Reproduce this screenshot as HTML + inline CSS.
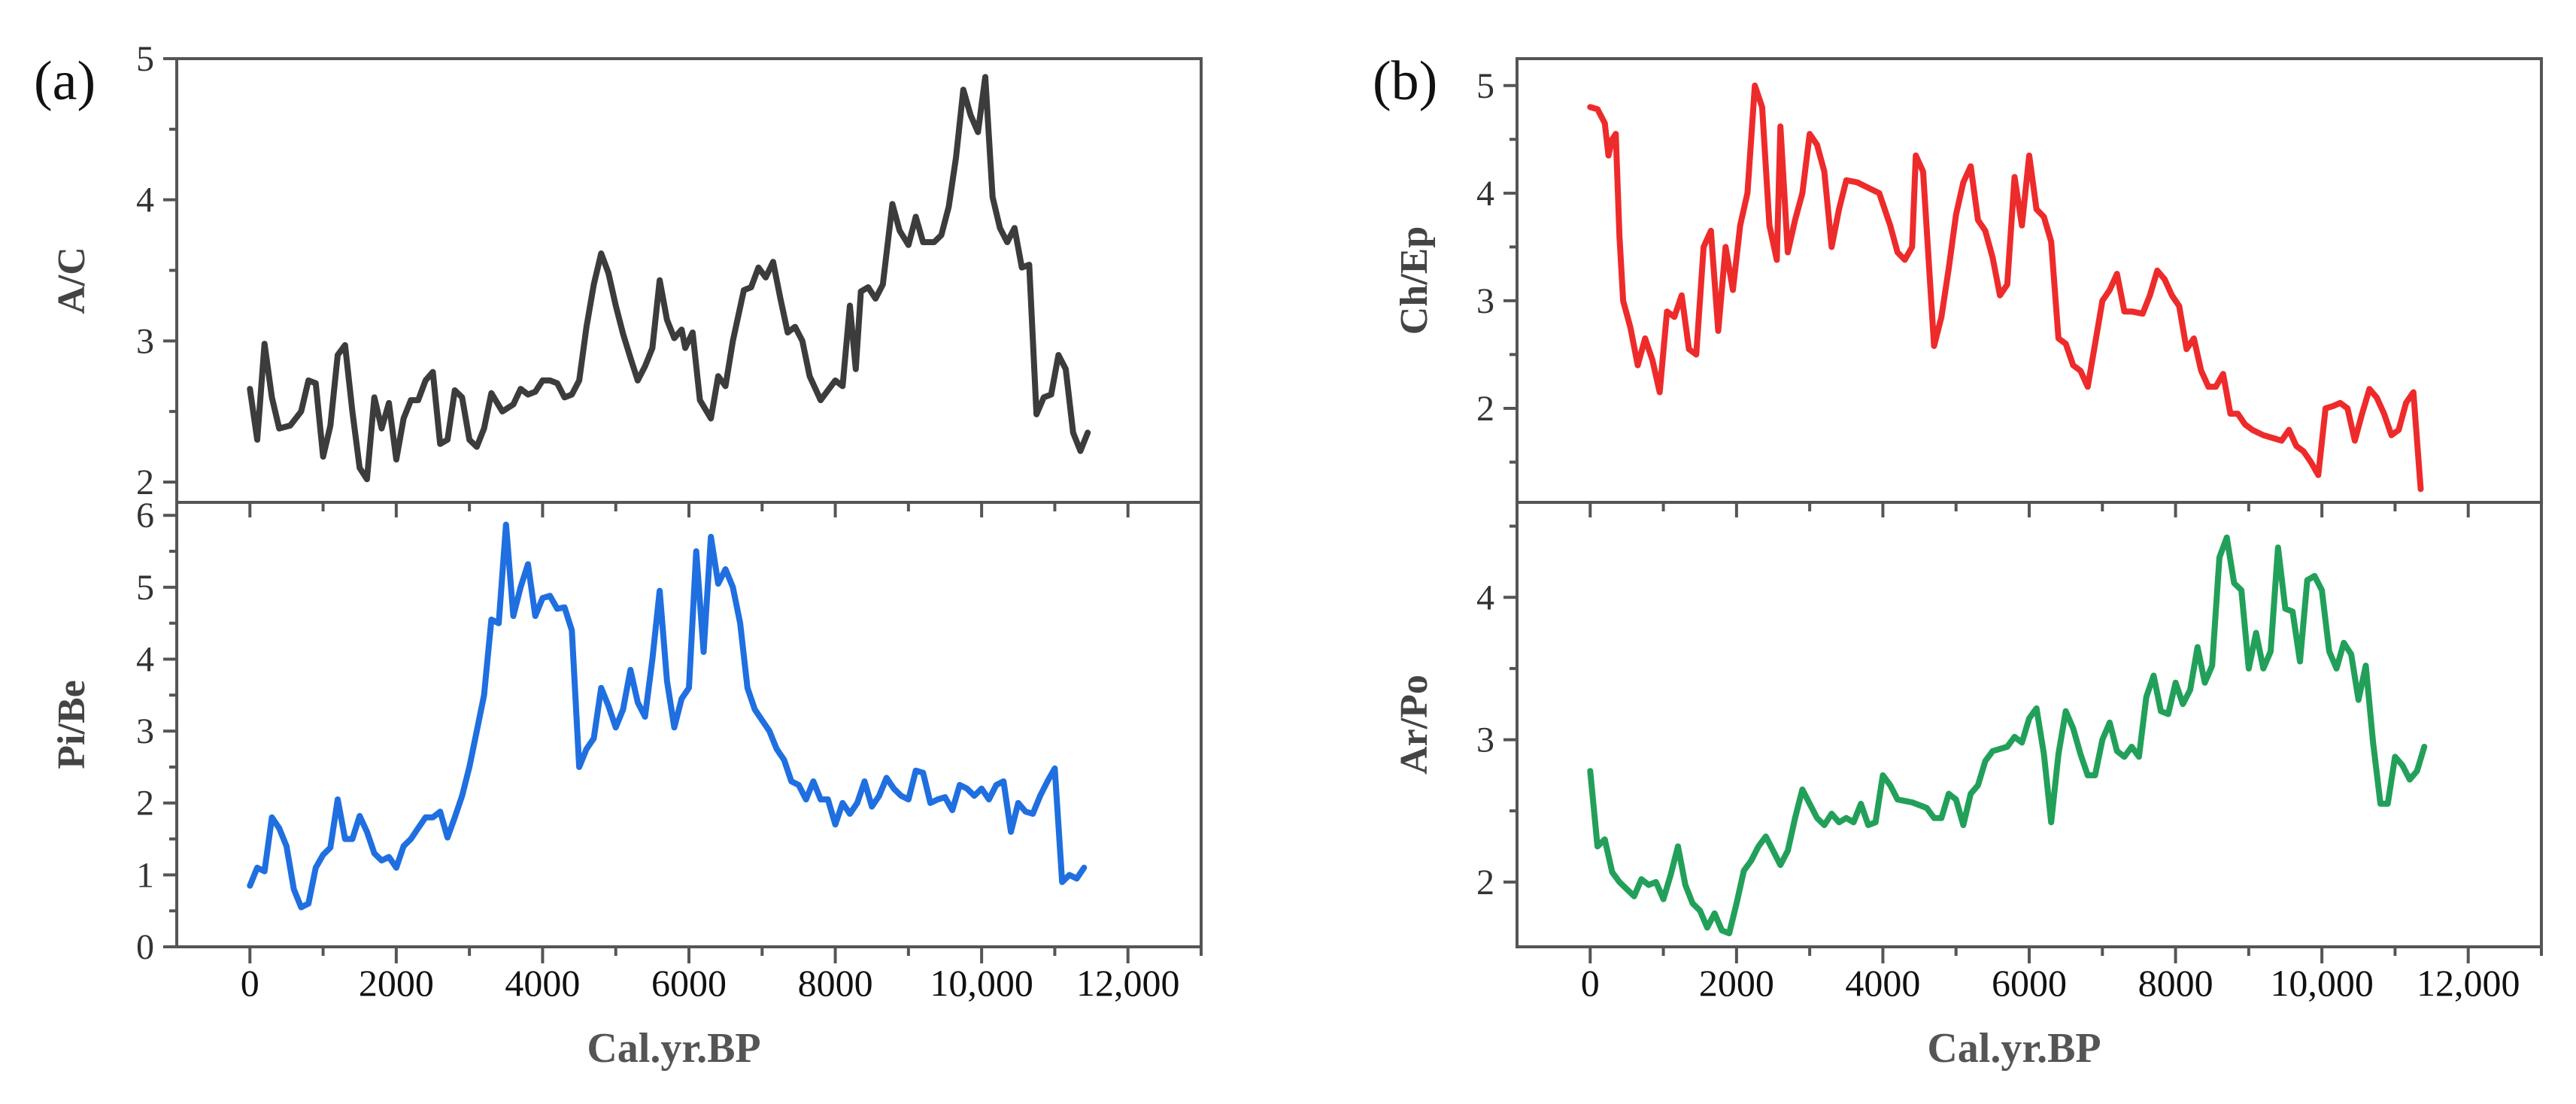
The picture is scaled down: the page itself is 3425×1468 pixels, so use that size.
<!DOCTYPE html>
<html><head><meta charset="utf-8">
<style>
html,body{margin:0;padding:0;background:#fff;}
svg{display:block;}
text{font-family:"Liberation Serif",serif;}
</style></head>
<body>
<svg id="fig" width="3425" height="1468" viewBox="0 0 3425 1468" xmlns="http://www.w3.org/2000/svg">
<rect width="3425" height="1468" fill="#fff"/>
</svg>
<script>
// ---- data arrays ----
const acYears=[0,100,200,300,400,550,700,800,900,1000,1100,1200,1300,1400,1500,1600,1700,1800,1900,2000,2100,2200,2300,2400,2500,2600,2700,2800,2900,3000,3100,3200,3300,3450,3600,3700,3800,3900,4000,4100,4200,4300,4400,4500,4600,4700,4800,4900,5000,5100,5200,5300,5400,5500,5600,5700,5800,5900,5950,6050,6150,6300,6400,6500,6600,6750,6850,6950,7050,7150,7250,7350,7450,7550,7650,7800,7900,8000,8100,8200,8280,8350,8450,8550,8650,8780,8880,9000,9100,9200,9350,9450,9550,9650,9750,9850,9950,10050,10150,10250,10350,10450,10550,10650,10750,10850,10950,11050,11150,11250,11350,11450];
const acValues=[2.66,2.3,2.98,2.6,2.38,2.4,2.5,2.72,2.7,2.18,2.4,2.9,2.97,2.5,2.1,2.02,2.6,2.38,2.56,2.16,2.45,2.58,2.58,2.72,2.78,2.27,2.3,2.65,2.6,2.3,2.25,2.38,2.63,2.5,2.55,2.66,2.62,2.64,2.72,2.72,2.7,2.6,2.62,2.72,3.1,3.4,3.62,3.48,3.25,3.05,2.88,2.72,2.82,2.95,3.43,3.15,3.02,3.08,2.95,3.06,2.58,2.45,2.75,2.68,3.0,3.36,3.38,3.52,3.45,3.56,3.3,3.06,3.1,3.0,2.75,2.58,2.65,2.72,2.68,3.25,2.8,3.35,3.38,3.3,3.4,3.97,3.78,3.68,3.88,3.7,3.7,3.75,3.95,4.3,4.78,4.6,4.48,4.87,4.02,3.8,3.7,3.8,3.52,3.54,2.48,2.6,2.62,2.9,2.8,2.35,2.22,2.35];
const pbYears=[0,100,200,300,400,500,600,700,800,900,1000,1100,1200,1300,1400,1500,1600,1700,1800,1900,2000,2100,2200,2300,2400,2500,2600,2700,2800,2900,3000,3100,3200,3300,3400,3500,3600,3700,3800,3900,4000,4100,4200,4300,4400,4500,4600,4700,4800,4900,5000,5100,5200,5300,5400,5500,5600,5700,5800,5900,6000,6100,6200,6300,6400,6500,6600,6700,6800,6900,7000,7100,7200,7300,7400,7500,7600,7700,7800,7900,8000,8100,8200,8300,8400,8500,8600,8700,8800,8900,9000,9100,9200,9300,9400,9500,9600,9700,9800,9900,10000,10100,10200,10300,10400,10500,10600,10700,10800,10900,11000,11100,11200,11300,11400];
const pbValues=[0.85,1.1,1.05,1.8,1.65,1.4,0.8,0.55,0.6,1.1,1.28,1.38,2.05,1.5,1.5,1.82,1.6,1.3,1.2,1.25,1.1,1.4,1.5,1.65,1.8,1.8,1.88,1.52,1.8,2.1,2.5,3.0,3.5,4.55,4.5,5.87,4.6,5.0,5.32,4.6,4.85,4.88,4.7,4.72,4.4,2.5,2.75,2.9,3.6,3.35,3.05,3.3,3.85,3.4,3.2,4.0,4.95,3.7,3.05,3.45,3.6,5.5,4.1,5.7,5.05,5.25,5.0,4.5,3.6,3.3,3.15,3.0,2.75,2.6,2.3,2.25,2.05,2.3,2.05,2.05,1.7,2.0,1.85,2.0,2.3,1.95,2.1,2.35,2.2,2.1,2.05,2.45,2.42,2.0,2.05,2.08,1.9,2.25,2.2,2.1,2.2,2.05,2.25,2.3,1.6,2.0,1.88,1.85,2.1,2.3,2.48,0.9,1.0,0.95,1.1];
const ceYears=[0,100,200,250,300,350,400,450,550,650,750,850,950,1050,1150,1250,1350,1450,1550,1650,1750,1850,1950,2050,2150,2250,2350,2450,2550,2600,2700,2800,2900,3000,3100,3200,3300,3400,3500,3650,3800,3950,4100,4200,4300,4400,4450,4550,4700,4800,4900,5000,5100,5200,5300,5400,5500,5600,5700,5800,5900,6000,6100,6200,6300,6400,6500,6600,6700,6800,6900,7000,7100,7200,7300,7400,7550,7650,7750,7850,7950,8050,8150,8250,8350,8450,8550,8650,8750,8850,8950,9050,9200,9350,9450,9550,9650,9750,9850,9950,10050,10150,10250,10350,10450,10550,10650,10750,10850,10950,11050,11150,11250,11350];
const ceValues=[4.8,4.78,4.65,4.35,4.5,4.55,3.6,3.0,2.75,2.4,2.65,2.45,2.15,2.9,2.85,3.05,2.55,2.5,3.5,3.65,2.72,3.5,3.1,3.7,4.0,5.0,4.8,3.7,3.38,4.62,3.45,3.75,4.0,4.55,4.45,4.2,3.5,3.85,4.12,4.1,4.05,4.0,3.7,3.45,3.38,3.5,4.35,4.2,2.58,2.85,3.3,3.8,4.1,4.25,3.75,3.65,3.4,3.05,3.15,4.15,3.7,4.35,3.85,3.78,3.55,2.65,2.6,2.4,2.35,2.2,2.6,3.0,3.1,3.25,2.9,2.9,2.88,3.05,3.28,3.2,3.05,2.95,2.55,2.65,2.35,2.2,2.2,2.32,1.95,1.95,1.85,1.8,1.75,1.72,1.7,1.8,1.65,1.6,1.5,1.38,2.0,2.02,2.05,2.0,1.7,1.95,2.18,2.1,1.95,1.75,1.8,2.05,2.15,1.25];
const apYears=[0,100,200,300,400,500,600,700,800,900,1000,1100,1200,1300,1400,1500,1600,1700,1800,1900,2000,2100,2200,2300,2400,2500,2600,2700,2800,2900,3000,3100,3200,3300,3400,3500,3600,3700,3800,3900,4000,4100,4200,4400,4600,4700,4800,4900,5000,5100,5200,5300,5400,5500,5700,5800,5900,6000,6100,6200,6300,6400,6500,6600,6700,6800,6900,7000,7100,7200,7300,7400,7500,7600,7700,7800,7900,8000,8100,8200,8300,8400,8500,8600,8700,8800,8900,9000,9100,9200,9300,9400,9500,9600,9700,9800,9900,10000,10100,10200,10300,10400,10500,10600,10700,10800,10900,11000,11100,11200,11300,11400];
const apValues=[2.78,2.25,2.3,2.07,2.0,1.95,1.9,2.02,1.98,2.0,1.88,2.05,2.25,1.98,1.85,1.8,1.68,1.78,1.66,1.64,1.85,2.08,2.15,2.25,2.32,2.22,2.12,2.22,2.45,2.65,2.55,2.45,2.4,2.48,2.42,2.45,2.42,2.55,2.4,2.42,2.75,2.68,2.58,2.56,2.52,2.45,2.45,2.62,2.58,2.4,2.62,2.68,2.85,2.92,2.95,3.02,2.98,3.15,3.22,2.9,2.42,2.9,3.2,3.08,2.9,2.75,2.75,3.0,3.12,2.92,2.88,2.95,2.88,3.3,3.45,3.2,3.18,3.4,3.25,3.35,3.65,3.4,3.52,4.28,4.42,4.1,4.05,3.5,3.75,3.5,3.62,4.35,3.92,3.9,3.55,4.12,4.15,4.05,3.62,3.5,3.68,3.6,3.28,3.52,2.98,2.55,2.55,2.88,2.82,2.72,2.78,2.95];
const xTickValues=[0,2000,4000,6000,8000,10000,12000];
const xTickLabels=["0","2000","4000","6000","8000","10,000","12,000"];

const NS="http://www.w3.org/2000/svg";
const svg=document.getElementById('fig');
function el(tag,attrs,parent){const e=document.createElementNS(NS,tag);for(const k in attrs)e.setAttribute(k,attrs[k]);(parent||svg).appendChild(e);return e;}
const AX="#555";

function drawPanel(p){
  const g=el('g',{});
  
  
  const xs=v=>p.x0+(v-(-1000))/(14000)*(p.x1-p.x0);
  const lt=el('text',{x:p.letterX,y:132,'font-size':74,fill:'#111'},g);
  lt.textContent=p.letter;
  
  
  p.subs.forEach(s=>{
    const ys=v=>s.yb-(v-s.d0)/(s.d1-s.d0)*(s.yb-s.yt);
    const sg=el('g',{},g);
    
    
    s.major.forEach(v=>{
      const y=ys(v);
      el('line',{x1:p.x0-18,x2:p.x0,y1:y,y2:y,stroke:AX,'stroke-width':4},sg);
      const t=el('text',{x:p.x0-30,y:y+16,'font-size':48,fill:'#333','text-anchor':'end'},sg);
      t.textContent=String(v);
      
      
    });
    s.minor.forEach(v=>{
      const y=ys(v);
      el('line',{x1:p.x0-10,x2:p.x0,y1:y,y2:y,stroke:AX,'stroke-width':4},sg);
    });
    const tx=p.titleX, ty=(s.yt+s.yb)/2;
    const tt=el('text',{x:tx,y:ty,'font-size':52,'font-weight':'bold',fill:'#444','text-anchor':'middle',transform:`rotate(-90 ${tx} ${ty})`},sg);
    tt.textContent=s.title;
    
    
    const d=s.years.map((yr,i)=>(i?'L':'M')+xs(yr).toFixed(1)+','+ys(s.values[i]).toFixed(1)).join(' ');
    const path=el('path',{d:d,fill:'none',stroke:s.color,'stroke-width':8,'stroke-linejoin':'round','stroke-linecap':'round'},sg);
    
    
  });
  const yt=p.subs[0].yt, ym=p.subs[0].yb, yb=p.subs[1].yb;
  el('rect',{x:p.x0,y:yt,width:p.x1-p.x0,height:yb-yt,fill:'none',stroke:AX,'stroke-width':4},g);
  el('line',{x1:p.x0,x2:p.x1,y1:ym,y2:ym,stroke:AX,'stroke-width':4},g);
  for(let v=0;v<=13000;v+=1000){
    const x=xs(v), maj=(v%2000===0);
    if(x>p.x1+1)continue;
    el('line',{x1:x,x2:x,y1:ym,y2:ym+(maj?20:12),stroke:AX,'stroke-width':4},g);
    el('line',{x1:x,x2:x,y1:yb,y2:yb+(maj?22:12),stroke:AX,'stroke-width':4},g);
  }
  el('line',{x1:p.x1,x2:p.x1,y1:yb,y2:yb+12,stroke:AX,'stroke-width':4},g);
  xTickValues.forEach((v,i)=>{
    const t=el('text',{x:xs(v),y:1324,'font-size':50,fill:'#111','text-anchor':'middle'},g);
    t.textContent=xTickLabels[i];
    
    
  });
  const xt=el('text',{x:(p.x0+p.x1)/2-20,y:1412,'font-size':56,'font-weight':'bold',fill:'#555','text-anchor':'middle'},g);
  xt.textContent='Cal.yr.BP';
  
  
}

drawPanel({name:'panel-a',letter:'(a)',letterX:45,titleX:112,x0:235,x1:1597,subs:[
  {key:'a-c',title:'A/C',yt:78,yb:668,d0:1.856,d1:5,major:[2,3,4,5],minor:[2.5,3.5,4.5],years:acYears,values:acValues,color:'#3c3c3c'},
  {key:'pi-be',title:'Pi/Be',yt:668,yb:1259,d0:0,d1:6.18,major:[0,1,2,3,4,5,6],minor:[0.5,1.5,2.5,3.5,4.5,5.5],years:pbYears,values:pbValues,color:'#1f6fe0'}
]});
drawPanel({name:'panel-b',letter:'(b)',letterX:1825,titleX:1897,x0:2017,x1:3379,subs:[
  {key:'ch-ep',title:'Ch/Ep',yt:78,yb:668,d0:1.126,d1:5.25,major:[2,3,4,5],minor:[1.5,2.5,3.5,4.5],years:ceYears,values:ceValues,color:'#ee2b2b'},
  {key:'ar-po',title:'Ar/Po',yt:668,yb:1259,d0:1.545,d1:4.667,major:[2,3,4],minor:[2.5,3.5,4.5],years:apYears,values:apValues,color:'#22a05a'}
]});
</script>
</body></html>
